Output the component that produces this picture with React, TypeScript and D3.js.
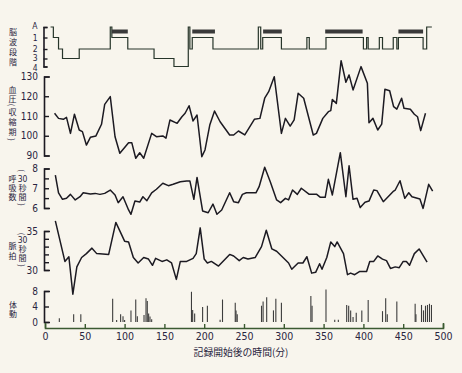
import React, { useRef, useEffect } from 'react';
import * as d3 from 'd3';

const W = 462;
const H = 373;

// sleep stages, top to bottom
const stages = ['A', '1', '2', '3', '4'];

// hypnogram steps: [minutes, stage]
const hypnogram: [number, string][] = [
    [7, 'A'], [10.5, '1'], [17, '2'], [22, '3'], [43, '2'], [82, 'A'], [84, '1'], [104, '2'],
    [137, '3'], [162, '4'], [180, 'A'], [182, '2'], [185, '1'], [211, '2'], [268, 'A'],
    [271, '2'], [273.5, '1'], [297, '2'], [329, '1'], [332, '2'], [353, '1'], [400, '2'],
    [404, '1'], [406, '2'], [420, '1'], [424, '2'], [437.5, '1'], [442, '2'], [444, '1'],
    [475, '2'], [479.5, 'A'], [486, 'A'],
];

// REM periods (thick bars): [start, end] minutes
const remPeriods: [number, number][] = [
    [84, 104], [185, 213.5], [274, 297.5], [352, 399], [444, 475],
];

// systolic blood pressure
const bloodPressure: [number, number][] = [
    [12, 111.4], [17, 108.8], [23, 108.3], [27, 109.3], [32, 101.2], [37, 110.9], [43, 102.9],
    [47, 102.1], [52, 95.3], [57, 99.2], [64, 99.9], [71, 105.8], [75, 115.9], [82, 119.8],
    [88, 99.5], [94, 91.1], [105, 96.5], [109, 96.5], [114, 88.6], [119, 91.4], [124, 88.6],
    [134, 101.2], [140, 99.5], [148, 99.9], [152, 98.8], [157, 108], [166, 106.3], [172, 109.6],
    [176, 111.4], [181, 115.2], [186, 107.5], [191, 110.5], [197, 89.4], [201, 92.8],
    [207, 105.4], [213, 112.5], [220, 107.1], [232, 100.4], [237, 100.4], [243, 102.4],
    [251, 100.4], [263, 108.3], [270, 108.8], [276, 119], [281, 122.3], [288, 129.9],
    [297, 101.2], [302, 108.8], [308, 104.9], [313, 108], [318, 121.5], [325, 119],
    [337, 100.4], [341, 101.2], [349, 108.8], [356, 112.2], [359, 112.7], [361, 118.4],
    [366, 116.4], [372, 138], [378, 127.1], [382, 130.8], [387, 123.2], [397, 135],
    [405, 126.6], [407, 106.6], [412, 108.8], [418, 102.9], [423, 105.9], [427, 123.5],
    [433, 122.8], [438, 114.7], [442, 113.5], [448, 119], [451, 113.9], [459, 113.4],
    [464, 110.9], [468, 109.6], [472, 102.6], [478, 111.4],
];

// respiration per 30 s
const respiration: [number, number][] = [
    [13, 7.67], [17, 6.77], [22, 6.44], [27, 6.49], [32, 6.69], [38, 6.41], [44, 6.57],
    [48, 6.77], [57, 6.71], [63, 6.74], [69, 6.69], [75, 6.74], [82, 6.91], [88, 6.66],
    [92, 6.27], [98, 6.57], [105, 5.9], [108, 5.68], [113, 6.35], [119, 6.3], [123, 6.57],
    [128, 6.37], [134, 6.77], [140, 6.95], [148, 7.25], [155, 7.13], [161, 7.2], [170, 7.33],
    [178, 7.37], [182, 7.37], [187, 6.44], [191, 7.55], [198, 5.85], [205, 5.76], [211, 6.2],
    [216, 5.68], [222, 5.9], [232, 6.77], [237, 6.32], [243, 6.27], [248, 6.69], [253, 6.77],
    [265, 6.77], [269, 7.08], [276, 8.06], [283, 7.33], [291, 6.41], [296, 6.27], [302, 6.49],
    [306, 6.41], [311, 6.91], [317, 6.69], [322, 7.0], [332, 6.69], [341, 6.7], [346, 6.54],
    [352, 6.54], [356, 7.45], [361, 6.66], [371, 8.8], [378, 6.57], [382, 8.14], [387, 6.44],
    [392, 6.49], [396, 6.02], [402, 6.29], [407, 6.35], [413, 6.91], [417, 6.88], [425, 6.32],
    [438, 6.86], [440, 6.91], [446, 7.38], [452, 6.49], [457, 6.77], [461, 6.57], [471, 6.46],
    [475, 5.98], [482, 7.2], [487, 6.86],
];

// pulse per 30 s
const pulse: [number, number][] = [
    [13, 36.3], [25, 31.1], [30, 31.7], [35, 26.9], [40, 30.4], [46, 31.6], [52, 32.1],
    [59, 32.8], [65, 32.1], [80, 32], [89, 36.1], [100, 33.7], [105, 33.6], [111, 31.6],
    [117, 30.9], [124, 31.6], [130, 31.4], [135, 30.6], [139, 31.5], [147, 31.1], [153, 31.3],
    [159, 30.9], [165, 28.8], [170, 31.1], [178, 31.1], [186, 31.5], [190, 32.1], [195, 35.4],
    [200, 31.4], [204, 30.9], [209, 31.1], [218, 30.5], [232, 32], [237, 31.8], [244, 31.2],
    [249, 31.6], [255, 31.4], [264, 31.6], [272, 33], [278, 35.1], [285, 32.7], [291, 32.4],
    [299, 31.6], [306, 30.9], [310, 30.1], [318, 30.9], [324, 30.9], [329, 31.7], [335, 29.6],
    [340, 29.7], [345, 30.8], [348, 30.1], [354, 31.6], [359, 33.6], [364, 33], [367, 33.6],
    [375, 32.1], [380, 29.4], [384, 29.6], [389, 29.4], [395, 29.8], [404, 29.8], [408, 31.1],
    [413, 31.1], [418, 31.8], [424, 31.4], [429, 31.2], [434, 30.2], [440, 30.4], [445, 30.3],
    [450, 31.1], [454, 31.1], [458, 30.6], [464, 32.1], [470, 32.7], [480, 31],
];

// body movement counts
const bodyMovement: [number, number][] = [
    [18, 1], [36, 2], [45, 2], [85, 6], [90, 0.5], [95, 2], [98, 1.5], [100, 0.5], [108, 3],
    [114, 5.8], [116, 1.5], [124.4, 1.8], [126.9, 6.1], [128.5, 5.4], [130.2, 2.2],
    [131.9, 1.4], [134, 0.7], [184, 7.8], [185.5, 3.1], [188, 2.2], [198, 3.9], [204, 4.2],
    [220, 0.6], [223, 5.8], [239, 5], [240, 3], [241.5, 2], [272, 4.2], [274, 5.3],
    [278.5, 6.4], [287, 3], [290, 6], [297, 5], [334, 6.7], [335.5, 4.2], [353, 8.4],
    [364, 0.6], [368.5, 0.6], [379, 4.4], [381.5, 4.2], [384, 3], [387, 1.3], [391, 2.4],
    [398, 3], [406, 5.7], [424, 2.8], [428, 6.1], [430, 2], [442, 5.3], [465, 4.7], [466, 2],
    [473, 4.4], [475.5, 3], [478, 4.2], [480.5, 4.4], [483, 4.7], [485.5, 4.4],
];

const timeTicks = [0, 50, 100, 150, 200, 250, 300, 350, 400, 450, 500];
const bpTicks = [90, 100, 110, 120, 130];
const respTicks = [6, 6.5, 7, 7.5, 8];
const pulseTicks = [30, 31, 32, 33, 34, 35];
const moveTicks = [0, 4, 8];

const NUM_FONT = "'Liberation Sans Narrow', 'DejaVu Sans Condensed', 'Liberation Sans', sans-serif";
const JP_FONT = "'Noto Sans CJK JP', sans-serif";
const INK = '#1c1a22';
const TEXT = '#2a2540';

export default function App() {
    const svgRef = useRef<SVGSVGElement>(null);

    useEffect(() => {
        if (!svgRef.current) return;
        const svg = d3.select(svgRef.current);
        svg.selectAll('*').remove();

        svg.append('rect').attr('width', W).attr('height', H).attr('fill', '#f8f5ed');

        const x = d3.scaleLinear().domain([0, 500]).range([45, 443]);
        const yStage = d3.scaleOrdinal<string, number>().domain(stages).range([27, 37.5, 49, 58.5, 66.5]);
        const yBP = d3.scaleLinear().domain([90, 130]).range([155.5, 76.5]);
        const yResp = d3.scaleLinear().domain([6, 8]).range([208, 168.5]);
        const yPulse = d3.scaleLinear().domain([30, 35]).range([270, 231]);
        const yMove = d3.scaleLinear().domain([0, 8]).range([322, 291]);

        // style helper for axes
        const styleAxis = (g: d3.Selection<SVGGElement, unknown, null, undefined>, color: string) => {
            g.select('.domain').attr('stroke', color).attr('stroke-width', 1.6);
            g.selectAll('.tick line').attr('stroke', color).attr('stroke-width', 1.4);
            g.selectAll('.tick text')
                .attr('fill', TEXT)
                .attr('font-family', NUM_FONT)
                .attr('font-size', 10);
        };

        // hypnogram axis
        const gStage = svg.append('g').attr('transform', 'translate(43.5,0)');
        gStage.call(d3.axisLeft(yStage as any).tickSizeInner(-4).tickSizeOuter(-4).tickPadding(6) as any);
        styleAxis(gStage as any, INK);
        gStage.selectAll<SVGTextElement, string>('.tick text')
            .attr('font-size', 8.5)
            .attr('y', d => (d === '3' ? -1 : d === '4' ? 1.5 : d === 'A' ? -1.5 : 0));

        const leftAxis = (scale: d3.ScaleLinear<number, number>, ticks: number[], fmt: (d: number) => string) => {
            const g = svg.append('g').attr('transform', 'translate(44,0)');
            g.call(d3.axisLeft(scale).tickValues(ticks).tickFormat(fmt as any)
                .tickSizeInner(-5).tickSizeOuter(-6).tickPadding(6) as any);
            styleAxis(g as any, INK);
            return g;
        };
        leftAxis(yBP, bpTicks, d => String(d));
        leftAxis(yResp, respTicks, d => (Number.isInteger(d) ? String(d) : ''));
        leftAxis(yPulse, pulseTicks, d => (d === 30 || d === 35 ? String(d) : ''));
        leftAxis(yMove, moveTicks, d => String(d));

        // time axis
        const gx = svg.append('g').attr('transform', 'translate(0,328)');
        gx.call(d3.axisBottom(x).tickValues(timeTicks).tickSizeInner(-4).tickSizeOuter(-5).tickPadding(5) as any);
        styleAxis(gx as any, '#3b5a31');
        gx.selectAll('.tick text').attr('font-size', 10.5);

        // hypnogram
        const stageLine = d3.line<[number, string]>()
            .x(d => x(d[0]))
            .y(d => yStage(d[1]))
            .curve(d3.curveStepAfter);
        svg.append('path')
            .datum(hypnogram)
            .attr('d', stageLine)
            .attr('fill', 'none')
            .attr('stroke', '#27352a')
            .attr('stroke-width', 1.2);

        svg.append('g').selectAll('rect')
            .data(remPeriods)
            .join('rect')
            .attr('x', d => x(d[0]))
            .attr('width', d => x(d[1]) - x(d[0]))
            .attr('y', yStage('A') + 2.5)
            .attr('height', 4)
            .attr('fill', '#3a3a3a');

        // physiological series
        const drawSeries = (data: [number, number][], y: d3.ScaleLinear<number, number>) => {
            const line = d3.line<[number, number]>().x(d => x(d[0])).y(d => y(d[1]));
            svg.append('path')
                .datum(data)
                .attr('d', line)
                .attr('fill', 'none')
                .attr('stroke', INK)
                .attr('stroke-width', 1.5)
                .attr('stroke-linejoin', 'round');
        };
        drawSeries(bloodPressure, yBP);
        drawSeries(respiration, yResp);
        drawSeries(pulse, yPulse);

        // body movement bars
        svg.append('g').selectAll('line')
            .data(bodyMovement)
            .join('line')
            .attr('x1', d => x(d[0]))
            .attr('x2', d => x(d[0]))
            .attr('y1', yMove(0))
            .attr('y2', d => yMove(d[1]))
            .attr('stroke', '#3d3d3d')
            .attr('stroke-width', 1.1);

        // vertical axis titles, one glyph per cell
        const vLabel = (cx: number, cells: [string, number][]) => {
            cells.forEach(([ch, cy]) => {
                const paren = ch === '(' || ch === ')';
                const digits = /\d/.test(ch);
                svg.append('text')
                    .attr('x', cx)
                    .attr('y', cy)
                    .attr('text-anchor', 'middle')
                    .attr('dominant-baseline', 'central')
                    .attr('font-family', digits ? NUM_FONT : JP_FONT)
                    .attr('font-size', digits ? 8.5 : 8)
                    .attr('fill', TEXT)
                    .attr('transform', paren ? `rotate(90,${cx},${cy})` : null)
                    .text(ch);
            });
        };
        vLabel(13, [['脳', 31.5], ['波', 41.5], ['段', 51.5], ['階', 61.5]]);
        vLabel(12.5, [['血', 89.5], ['圧', 98], ['(', 105], ['収', 111], ['縮', 121], ['期', 131], [')', 139.5]]);
        vLabel(12.5, [['呼', 178.5], ['吸', 187.5], ['数', 196.5]]);
        vLabel(22.5, [['(', 170.5], ['30', 178.5], ['秒', 187], ['間', 196], [')', 204.5]]);
        vLabel(12.5, [['脈', 245.5], ['拍', 255]]);
        vLabel(22.5, [['(', 234], ['30', 240], ['秒', 248.5], ['間', 257], [')', 265.5]]);
        vLabel(13, [['体', 304], ['動', 313.5]]);

        svg.append('text')
            .attr('x', 241)
            .attr('y', 355.5)
            .attr('text-anchor', 'middle')
            .attr('font-family', JP_FONT)
            .attr('font-size', 9.8)
            .attr('fill', TEXT)
            .text('記録開始後の時間(分)');
    }, []);

    return (
        <svg
            ref={svgRef}
            width={W}
            height={H}
            style={{ position: 'absolute', left: 0, top: 0, display: 'block' }}
        />
    );
}
